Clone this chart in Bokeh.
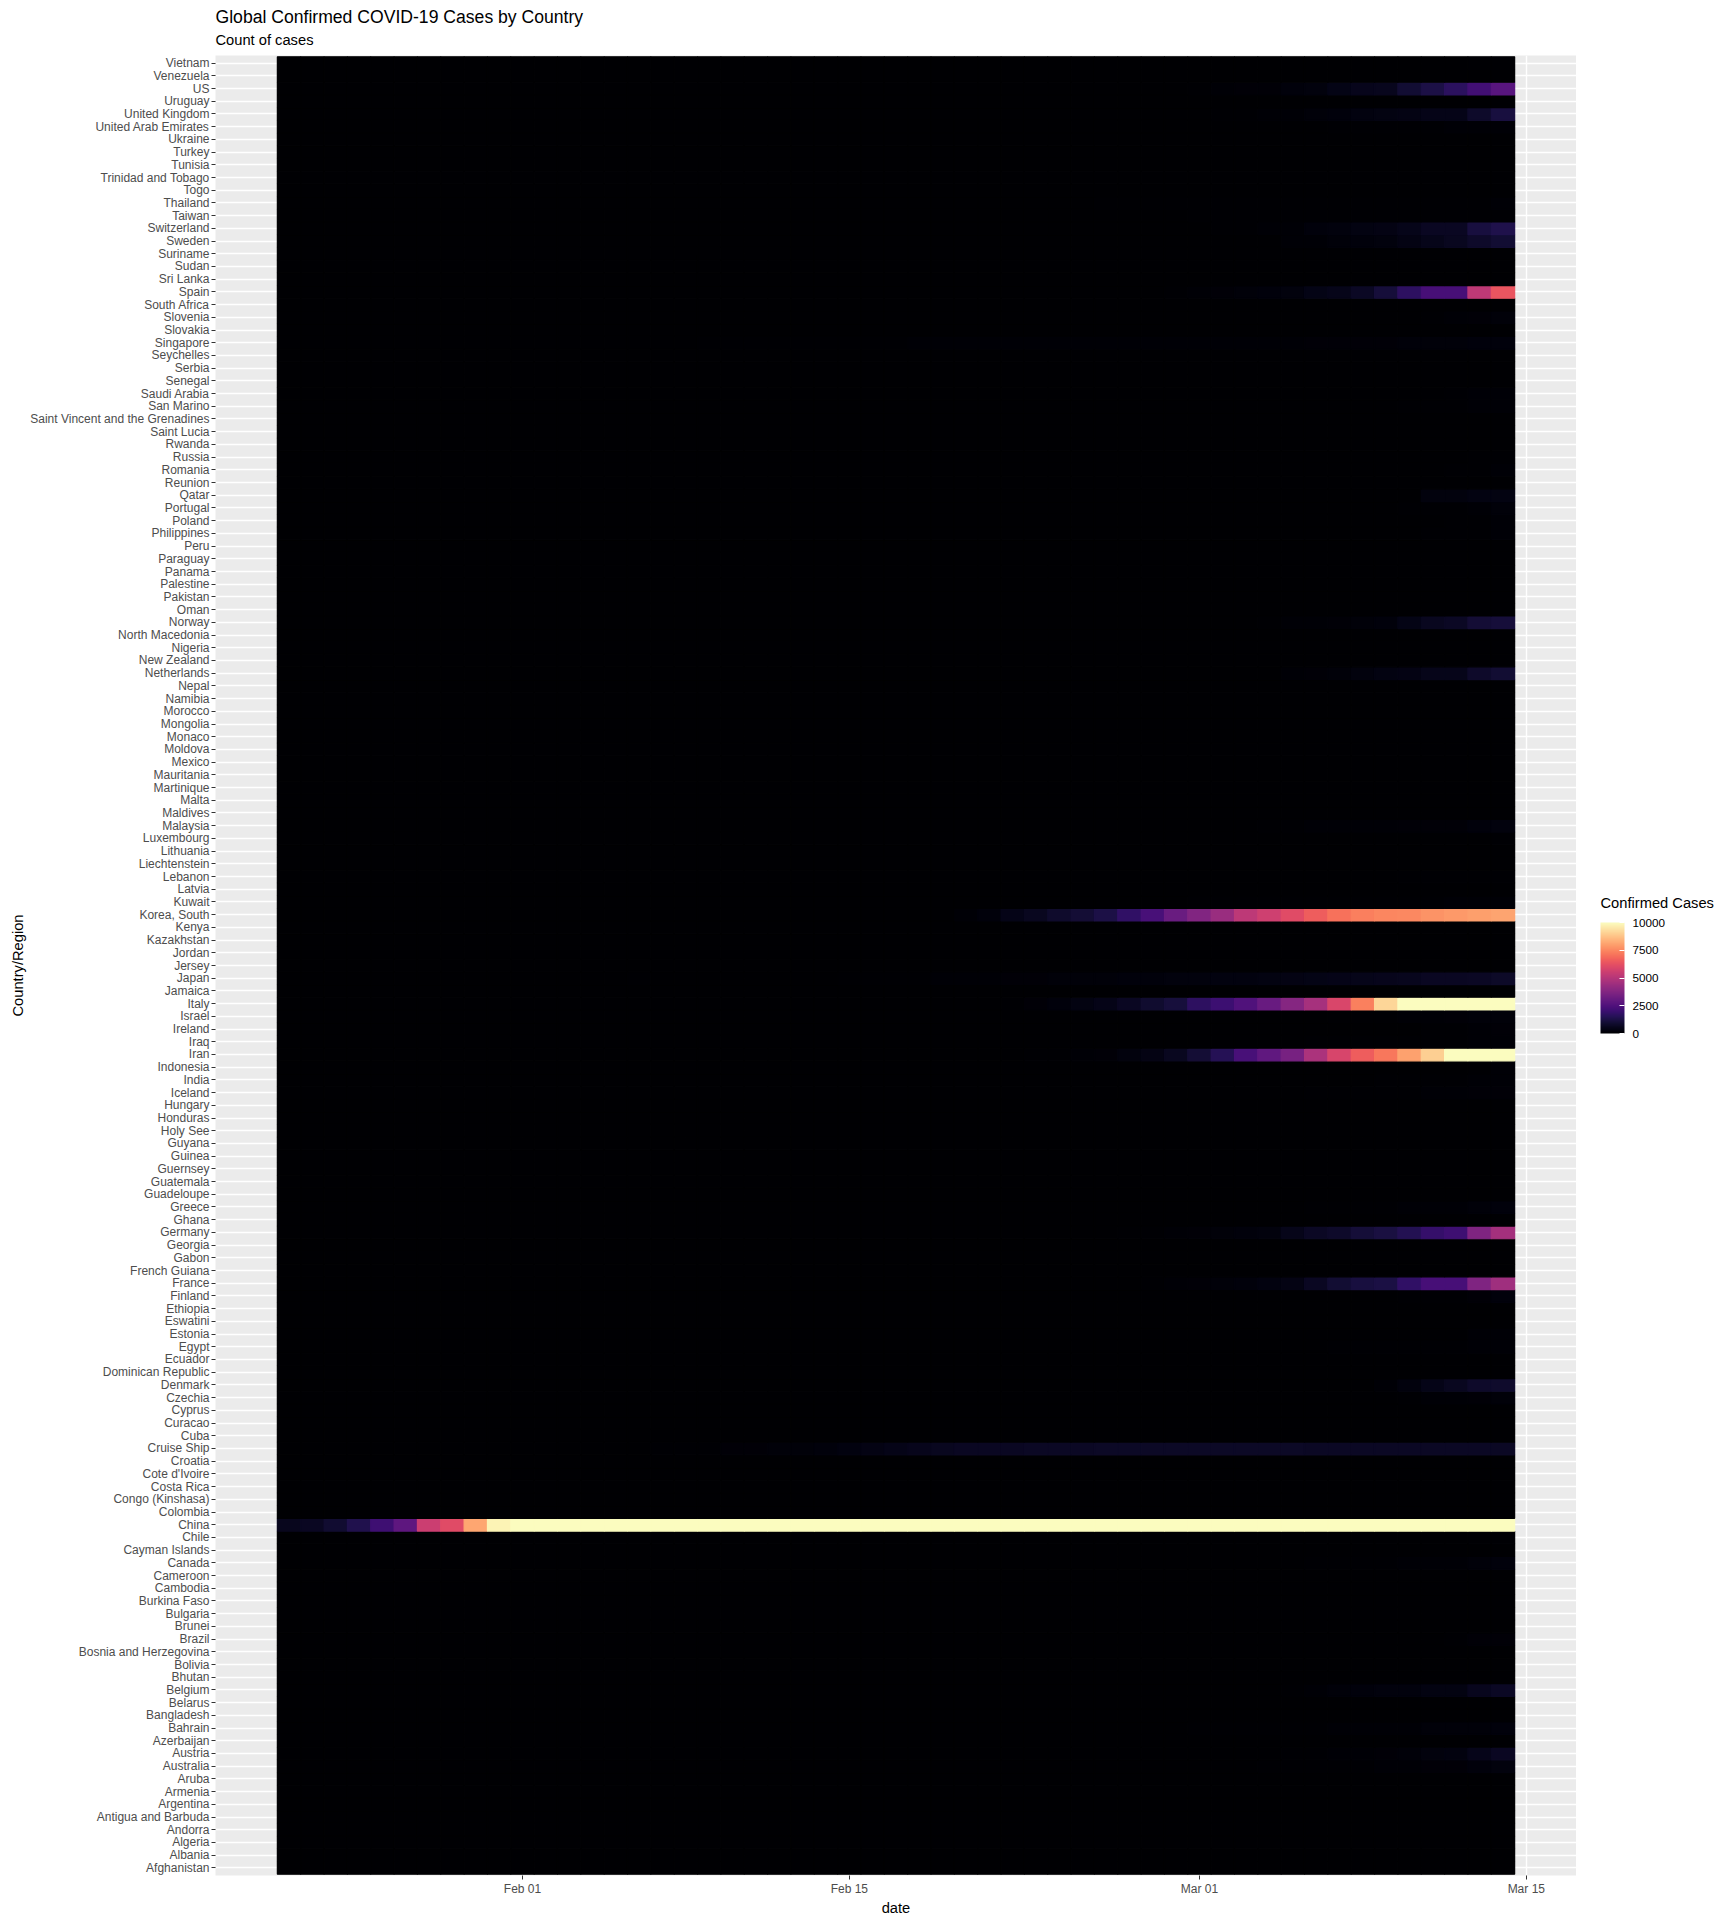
import pandas as pd
from bokeh.plotting import figure
from bokeh.layouts import column, row
from bokeh.models import (ColumnDataSource, LinearColorMapper, ColorBar, FixedTicker,
                          Range1d, DatetimeTickFormatter)
from bokeh.core.properties import value
from bokeh.palettes import Magma256
from bokeh.transform import transform
from bokeh.embed import file_html
from bokeh.resources import INLINE

# ---------------- data ----------------
COUNTRIES = [
    "Afghanistan", "Albania", "Algeria", "Andorra", "Antigua and Barbuda", "Argentina", "Armenia",
    "Aruba", "Australia", "Austria", "Azerbaijan", "Bahrain", "Bangladesh", "Belarus", "Belgium",
    "Bhutan", "Bolivia", "Bosnia and Herzegovina", "Brazil", "Brunei", "Bulgaria", "Burkina Faso",
    "Cambodia", "Cameroon", "Canada", "Cayman Islands", "Chile", "China", "Colombia",
    "Congo (Kinshasa)", "Costa Rica", "Cote d'Ivoire", "Croatia", "Cruise Ship", "Cuba", "Curacao",
    "Cyprus", "Czechia", "Denmark", "Dominican Republic", "Ecuador", "Egypt", "Estonia", "Eswatini",
    "Ethiopia", "Finland", "France", "French Guiana", "Gabon", "Georgia", "Germany", "Ghana",
    "Greece", "Guadeloupe", "Guatemala", "Guernsey", "Guinea", "Guyana", "Holy See", "Honduras",
    "Hungary", "Iceland", "India", "Indonesia", "Iran", "Iraq", "Ireland", "Israel", "Italy",
    "Jamaica", "Japan", "Jersey", "Jordan", "Kazakhstan", "Kenya", "Korea, South", "Kuwait",
    "Latvia", "Lebanon", "Liechtenstein", "Lithuania", "Luxembourg", "Malaysia", "Maldives",
    "Malta", "Martinique", "Mauritania", "Mexico", "Moldova", "Monaco", "Mongolia", "Morocco",
    "Namibia", "Nepal", "Netherlands", "New Zealand", "Nigeria", "North Macedonia", "Norway",
    "Oman", "Pakistan", "Palestine", "Panama", "Paraguay", "Peru", "Philippines", "Poland",
    "Portugal", "Qatar", "Reunion", "Romania", "Russia", "Rwanda", "Saint Lucia",
    "Saint Vincent and the Grenadines", "San Marino", "Saudi Arabia", "Senegal", "Serbia",
    "Seychelles", "Singapore", "Slovakia", "Slovenia", "South Africa", "Spain", "Sri Lanka",
    "Sudan", "Suriname", "Sweden", "Switzerland", "Taiwan", "Thailand", "Togo",
    "Trinidad and Tobago", "Tunisia", "Turkey", "Ukraine", "United Arab Emirates",
    "United Kingdom", "Uruguay", "US", "Venezuela", "Vietnam",
]

FIRST_DATE = "2020-01-22"
N_DAYS = 53  # 2020-01-22 .. 2020-03-14

TITLE = "Global Confirmed COVID-19 Cases by Country"
SUBTITLE = "Count of cases"
LEGEND_TITLE = "Confirmed Cases"
LEGEND_TICKS = [0, 2500, 5000, 7500, 10000]

# full daily series (Jan 22 .. Mar 14)
CHINA = [548, 643, 920, 1406, 2075, 2877, 5509, 6087, 8141, 9802,
         11891, 16630, 19716, 23707, 27440, 30587, 34110, 36814, 39829, 42354,
         44386, 44759, 59895, 66358, 68413, 70513, 72434, 74211, 74619, 75077,
         75550, 77001, 77022, 77241, 77754, 78166, 78600, 78928, 79356,
         79932, 80136, 80261, 80386, 80537, 80690, 80770, 80823, 80860, 80887,
         80921, 80932, 80945, 80977]
KOREA_SOUTH = [1, 1, 2, 2, 3, 4, 4, 4, 4, 11,
               12, 15, 15, 16, 19, 23, 24, 24, 25, 27,
               28, 28, 28, 28, 28, 29, 30, 31, 31, 104,
               204, 433, 602, 833, 977, 1261, 1766, 2337, 3150,
               3736, 4335, 5186, 5621, 6088, 6593, 7041, 7314, 7478, 7513,
               7755, 7869, 7979, 8086]
ITALY = [0, 0, 0, 0, 0, 0, 0, 0, 0, 2,
         2, 2, 2, 2, 2, 2, 3, 3, 3, 3,
         3, 3, 3, 3, 3, 3, 3, 3, 3, 3,
         20, 62, 155, 229, 322, 453, 655, 888, 1128,
         1694, 2036, 2502, 3089, 3858, 4636, 5883, 7375, 9172, 10149,
         12462, 12462, 17660, 21157]
IRAN = [0, 0, 0, 0, 0, 0, 0, 0, 0, 0,
        0, 0, 0, 0, 0, 0, 0, 0, 0, 0,
        0, 0, 0, 0, 0, 0, 0, 0, 2, 5,
        18, 28, 43, 61, 95, 139, 245, 388, 593,
        978, 1501, 2336, 2922, 3513, 4747, 5823, 6566, 7161, 8042,
        9000, 10075, 11364, 12729]
SPAIN = [0, 0, 0, 0, 0, 0, 0, 0, 0, 0,
         1, 1, 1, 1, 1, 1, 1, 1, 2, 2,
         2, 2, 2, 2, 2, 2, 2, 2, 2, 2,
         2, 2, 2, 2, 6, 13, 15, 32, 45,
         84, 120, 165, 222, 259, 400, 500, 673, 1073, 1695,
         2277, 2277, 5232, 6391]
FRANCE = [0, 0, 2, 3, 3, 3, 4, 5, 5, 5,
          6, 6, 6, 6, 6, 6, 6, 11, 11, 11,
          11, 11, 11, 11, 12, 12, 12, 12, 12, 12,
          12, 12, 12, 12, 12, 18, 38, 57, 100,
          130, 191, 204, 288, 380, 656, 957, 1134, 1217, 1792,
          2289, 2289, 3672, 4480]
GERMANY = [0, 0, 0, 0, 0, 1, 4, 4, 4, 5,
           8, 10, 12, 12, 12, 12, 13, 13, 14, 14,
           16, 16, 16, 16, 16, 16, 16, 16, 16, 16,
           16, 16, 16, 16, 17, 27, 46, 48, 79,
           130, 159, 196, 262, 482, 670, 799, 1040, 1176, 1457,
           1908, 2078, 3675, 4585]
US = [1, 1, 2, 2, 5, 5, 5, 5, 5, 6,
      8, 8, 11, 11, 11, 12, 12, 12, 12, 12,
      13, 13, 14, 14, 14, 14, 14, 14, 14, 14,
      16, 16, 16, 16, 16, 16, 17, 30, 30,
      74, 98, 118, 149, 217, 262, 402, 518, 583, 959,
      1281, 1663, 2179, 2727]
UNITED_KINGDOM = [0, 0, 0, 0, 0, 0, 0, 0, 0, 2,
                  2, 2, 2, 2, 2, 3, 3, 3, 3, 8,
                  8, 8, 9, 9, 9, 9, 9, 9, 9, 9,
                  9, 9, 9, 9, 9, 13, 13, 20, 23,
                  36, 40, 51, 86, 116, 164, 207, 274, 322, 384,
                  459, 459, 802, 1144]
JAPAN = [2, 1, 2, 2, 4, 4, 7, 7, 11, 15,
         20, 20, 20, 22, 22, 45, 25, 25, 26, 26,
         26, 28, 28, 29, 43, 59, 66, 74, 84, 94,
         105, 122, 147, 159, 170, 189, 214, 228, 241,
         256, 274, 293, 331, 360, 420, 461, 502, 511, 581,
         639, 639, 701, 773]
CRUISE_SHIP = [0, 0, 0, 0, 0, 0, 0, 0, 0, 0,
               0, 0, 0, 0, 0, 0, 61, 61, 64, 135,
               135, 175, 175, 218, 285, 355, 454, 542, 621, 634,
               634, 634, 691, 691, 691, 705, 705, 705, 705,
               705, 705, 706, 706, 706, 696, 696, 696, 696, 696,
               696, 696, 696, 696]
SINGAPORE = [0, 1, 3, 3, 4, 5, 7, 7, 10, 13,
             16, 18, 18, 24, 28, 28, 30, 33, 40, 45,
             47, 50, 58, 67, 72, 75, 77, 81, 84, 84,
             85, 85, 89, 89, 91, 93, 93, 93, 102,
             106, 108, 110, 110, 117, 130, 138, 150, 150, 160,
             178, 178, 200, 212]
MALAYSIA = [0, 0, 0, 3, 4, 4, 4, 7, 8, 8,
            8, 8, 8, 10, 12, 12, 12, 16, 16, 18,
            18, 18, 19, 19, 22, 22, 22, 22, 22, 22,
            22, 22, 22, 22, 22, 22, 23, 23, 25,
            29, 29, 36, 50, 50, 83, 93, 99, 117, 129,
            149, 149, 197, 238]
THAILAND = [2, 3, 5, 7, 8, 8, 14, 14, 14, 19,
            19, 19, 19, 25, 25, 25, 25, 32, 32, 32,
            33, 33, 33, 33, 34, 34, 35, 35, 35, 35,
            35, 35, 35, 35, 37, 40, 40, 41, 42,
            42, 43, 43, 43, 47, 48, 50, 50, 50, 53,
            59, 70, 75, 82]
TAIWAN = [1, 1, 3, 3, 4, 5, 8, 8, 9, 10,
          10, 10, 10, 10, 11, 11, 16, 16, 17, 18,
          18, 18, 18, 18, 18, 20, 22, 22, 23, 24,
          26, 26, 28, 30, 31, 32, 32, 34, 39,
          40, 41, 42, 42, 44, 45, 45, 45, 45, 47,
          48, 49, 50, 53]
VIETNAM = [0, 2, 2, 2, 2, 2, 2, 2, 2, 2,
           6, 8, 8, 8, 10, 10, 13, 13, 14, 14,
           15, 15, 16, 16, 16, 16, 16, 16, 16, 16,
           16, 16, 16, 16, 16, 16, 16, 16, 16,
           16, 16, 16, 16, 16, 21, 30, 30, 31, 31,
           35, 35, 44, 53]
AUSTRALIA = [0, 0, 0, 0, 4, 5, 5, 6, 9, 9,
             12, 12, 12, 13, 13, 14, 15, 15, 15, 15,
             15, 15, 15, 15, 15, 15, 15, 15, 15, 15,
             15, 15, 15, 15, 15, 15, 23, 23, 25,
             27, 30, 39, 52, 55, 60, 63, 76, 91, 107,
             128, 128, 200, 250]
UAE = [0, 0, 0, 0, 0, 0, 0, 4, 4, 4,
       4, 5, 5, 5, 5, 5, 5, 7, 7, 8,
       8, 8, 8, 8, 8, 9, 9, 9, 9, 9,
       9, 13, 13, 13, 13, 13, 13, 19, 21,
       21, 21, 27, 27, 29, 29, 45, 45, 45, 74,
       74, 85, 85, 85]

# last 14 days only (Mar 01 .. Mar 14); earlier days are (near) zero
SWITZERLAND_MAR = [27, 42, 56, 90, 114, 214, 268, 337, 374, 491, 652, 652, 1139, 1359]
SWEDEN_MAR = [14, 15, 21, 35, 94, 101, 161, 203, 248, 355, 500, 599, 814, 961]
NETHERLANDS_MAR = [10, 18, 24, 38, 82, 128, 188, 265, 321, 382, 503, 503, 806, 962]
NORWAY_MAR = [19, 25, 32, 56, 87, 108, 147, 176, 205, 400, 598, 702, 996, 1090]
DENMARK_MAR = [4, 4, 6, 10, 10, 23, 23, 35, 90, 262, 442, 615, 801, 827]
BELGIUM_MAR = [2, 8, 13, 23, 50, 109, 169, 200, 239, 267, 314, 314, 559, 689]
AUSTRIA_MAR = [14, 18, 21, 29, 41, 55, 79, 104, 131, 182, 246, 302, 504, 655]
QATAR_MAR = [1, 1, 7, 8, 8, 8, 12, 12, 15, 24, 262, 262, 320, 337]
BAHRAIN_MAR = [47, 49, 49, 52, 55, 60, 85, 85, 95, 110, 195, 195, 189, 210]
GREECE_MAR = [7, 7, 7, 9, 31, 45, 46, 73, 73, 89, 99, 99, 190, 228]
ISRAEL_MAR = [10, 10, 12, 15, 20, 37, 43, 50, 75, 97, 109, 131, 161, 193]
CANADA_MAR = [20, 24, 27, 33, 37, 49, 54, 64, 77, 79, 108, 117, 193, 198]
FINLAND_MAR = [6, 6, 6, 6, 12, 15, 15, 23, 30, 40, 59, 59, 155, 225]
ICELAND_MAR = [3, 6, 11, 26, 34, 43, 50, 50, 58, 69, 85, 103, 134, 156]
PORTUGAL_MAR = [0, 2, 2, 5, 8, 13, 20, 30, 30, 41, 59, 59, 112, 169]
CZECHIA_MAR = [3, 3, 5, 5, 8, 19, 26, 32, 38, 63, 94, 94, 141, 189]
SLOVENIA_MAR = [0, 0, 0, 1, 6, 8, 9, 16, 25, 34, 57, 89, 141, 181]
BRAZIL_MAR = [2, 2, 2, 4, 4, 13, 13, 20, 25, 31, 38, 52, 151, 151]
IRELAND_MAR = [1, 1, 2, 2, 6, 18, 18, 19, 21, 34, 43, 43, 90, 129]
ESTONIA_MAR = [1, 1, 1, 1, 1, 1, 1, 3, 10, 10, 13, 16, 79, 115]
EGYPT_MAR = [2, 2, 2, 3, 15, 15, 49, 55, 59, 60, 67, 67, 80, 109]
INDIA_MAR = [3, 5, 5, 28, 30, 31, 34, 39, 43, 56, 62, 73, 82, 102]
KUWAIT_MAR = [45, 56, 56, 56, 58, 58, 61, 64, 64, 69, 72, 80, 80, 104]
IRAQ_MAR = [19, 26, 32, 35, 35, 40, 54, 60, 60, 71, 71, 71, 101, 110]
PHILIPPINES_MAR = [3, 3, 3, 3, 3, 5, 6, 10, 20, 33, 49, 52, 64, 111]
INDONESIA_MAR = [0, 2, 2, 2, 2, 4, 4, 6, 19, 27, 34, 34, 69, 96]
SAUDI_ARABIA_MAR = [0, 1, 1, 1, 5, 5, 5, 11, 15, 20, 21, 45, 86, 103]
SAN_MARINO_MAR = [8, 8, 10, 16, 21, 21, 23, 36, 36, 51, 62, 69, 80, 80]
ROMANIA_MAR = [3, 3, 3, 3, 4, 6, 9, 9, 15, 15, 25, 45, 49, 89]
POLAND_MAR = [0, 0, 0, 1, 1, 5, 5, 11, 16, 22, 31, 49, 68, 103]
RUSSIA_MAR = [2, 3, 3, 3, 4, 13, 13, 17, 17, 20, 20, 28, 45, 59]
LEBANON_MAR = [10, 13, 13, 13, 16, 22, 22, 32, 32, 41, 61, 61, 77, 77]
CHILE_MAR = [0, 0, 1, 3, 4, 4, 4, 8, 8, 13, 23, 23, 43, 61]
LUXEMBOURG_MAR = [1, 1, 1, 2, 2, 3, 4, 5, 5, 5, 7, 7, 26, 51]

# ---------------- table for bokeh ----------------
def pad(vals):
    return [0] * (N_DAYS - len(vals)) + list(vals)

SERIES = {
    "China": CHINA, "Korea, South": KOREA_SOUTH, "Italy": ITALY, "Iran": IRAN, "Spain": SPAIN,
    "France": FRANCE, "Germany": GERMANY, "US": US, "United Kingdom": UNITED_KINGDOM,
    "Japan": JAPAN, "Cruise Ship": CRUISE_SHIP, "Singapore": SINGAPORE, "Malaysia": MALAYSIA,
    "Thailand": THAILAND, "Taiwan": TAIWAN, "Vietnam": VIETNAM, "Australia": AUSTRALIA,
    "United Arab Emirates": UAE,
    "Switzerland": pad(SWITZERLAND_MAR), "Sweden": pad(SWEDEN_MAR),
    "Netherlands": pad(NETHERLANDS_MAR), "Norway": pad(NORWAY_MAR), "Denmark": pad(DENMARK_MAR),
    "Belgium": pad(BELGIUM_MAR), "Austria": pad(AUSTRIA_MAR), "Qatar": pad(QATAR_MAR),
    "Bahrain": pad(BAHRAIN_MAR), "Greece": pad(GREECE_MAR), "Israel": pad(ISRAEL_MAR),
    "Canada": pad(CANADA_MAR), "Finland": pad(FINLAND_MAR), "Iceland": pad(ICELAND_MAR),
    "Portugal": pad(PORTUGAL_MAR), "Czechia": pad(CZECHIA_MAR), "Slovenia": pad(SLOVENIA_MAR),
    "Brazil": pad(BRAZIL_MAR), "Ireland": pad(IRELAND_MAR), "Estonia": pad(ESTONIA_MAR),
    "Egypt": pad(EGYPT_MAR), "India": pad(INDIA_MAR), "Kuwait": pad(KUWAIT_MAR),
    "Iraq": pad(IRAQ_MAR), "Philippines": pad(PHILIPPINES_MAR),
    "Indonesia": pad(INDONESIA_MAR), "Saudi Arabia": pad(SAUDI_ARABIA_MAR),
    "San Marino": pad(SAN_MARINO_MAR), "Romania": pad(ROMANIA_MAR), "Poland": pad(POLAND_MAR),
    "Russia": pad(RUSSIA_MAR), "Lebanon": pad(LEBANON_MAR), "Chile": pad(CHILE_MAR),
    "Luxembourg": pad(LUXEMBOURG_MAR),
}

DATES = pd.date_range(FIRST_DATE, periods=N_DAYS, freq="D")

xs, ys, vals = [], [], []
for i, c in enumerate(COUNTRIES):
    r = SERIES.get(c, [0] * N_DAYS)
    for j, d in enumerate(DATES):
        xs.append(d)
        ys.append(i + 1)
        vals.append(r[j])
source = ColumnDataSource(dict(date=xs, row=ys, value=vals))

mapper = LinearColorMapper(palette=Magma256, low=LEGEND_TICKS[0], high=LEGEND_TICKS[-1])

FONT = "Liberation Sans"
DAY = pd.Timedelta(days=1)
x_start = (DATES[0] - 0.5 * DAY - 0.05 * N_DAYS * DAY).to_pydatetime()
x_end = (DATES[-1] + 0.5 * DAY + 0.05 * N_DAYS * DAY).to_pydatetime()
n = len(COUNTRIES)

TOP_H = 55          # title strip height
LEFT_W = 215        # left border of the heatmap
FW, FH = 1361, 1820 # heatmap frame
LEG_W = 1728 - LEFT_W - FW
LEG_H = 1100

# ---------------- title strip ----------------
top = figure(width=1728, height=TOP_H, x_range=Range1d(0, 1728), y_range=Range1d(TOP_H, 0),
             x_axis_location=None, y_axis_location=None, output_backend="svg",
             toolbar_location=None, min_border=0)
top.grid.visible = False
top.outline_line_color = None
top.text(x=[LEFT_W], y=[16], text=[TITLE], text_font=value(FONT), text_font_size="17.6px",
         text_color="black", text_baseline="middle", text_align="left")
top.text(x=[LEFT_W], y=[39], text=[SUBTITLE], text_font=value(FONT), text_font_size="14.7px",
         text_color="black", text_baseline="middle", text_align="left")

# ---------------- heatmap ----------------
p = figure(x_axis_type="datetime",
           x_range=Range1d(x_start, x_end),
           y_range=Range1d(0.4, n + 0.6),
           frame_width=FW, frame_height=FH,
           output_backend="svg", toolbar_location=None,
           min_border_left=LEFT_W, min_border_right=0, min_border_top=0, min_border_bottom=0)

p.background_fill_color = "#EBEBEB"
p.border_fill_color = "white"
p.outline_line_color = None

p.rect(x="date", y="row", width=24 * 3600 * 1000, height=1, source=source,
       fill_color=transform("value", mapper), line_color=transform("value", mapper),
       line_width=1.2)

def ms(s):
    return pd.Timestamp(s).timestamp() * 1000

xticker = FixedTicker(ticks=[ms("2020-02-01"), ms("2020-02-15"), ms("2020-03-01"), ms("2020-03-15")],
                      minor_ticks=[ms("2020-01-18"), ms("2020-01-25"), ms("2020-02-08"),
                                   ms("2020-02-22"), ms("2020-03-08")])
p.xaxis.ticker = xticker
p.xgrid.ticker = xticker
p.xaxis.formatter = DatetimeTickFormatter(days="%b %d", months="%b %d")

yticker = FixedTicker(ticks=list(range(1, n + 1)))
p.yaxis.ticker = yticker
p.ygrid.ticker = yticker
p.yaxis.major_label_overrides = {i + 1: c for i, c in enumerate(COUNTRIES)}

p.xgrid.grid_line_color = "white"
p.xgrid.grid_line_width = 1.4
p.xgrid.minor_grid_line_color = "white"
p.xgrid.minor_grid_line_width = 0.7
p.ygrid.grid_line_color = "white"
p.ygrid.grid_line_width = 1.4

for ax in (p.xaxis, p.yaxis):
    ax.axis_line_color = None
    ax.major_tick_line_color = "#333333"
    ax.major_tick_line_width = 1
    ax.major_tick_out = 4
    ax.major_tick_in = 0
    ax.minor_tick_line_color = None
    ax.major_label_text_font = FONT
    ax.major_label_text_font_size = "12px"
    ax.major_label_text_color = "#4D4D4D"
    ax.major_label_standoff = 2
    ax.axis_label_text_font = FONT
    ax.axis_label_text_font_size = "14.7px"
    ax.axis_label_text_font_style = "normal"
    ax.axis_label_text_color = "black"
    ax.axis_label_standoff = 1

p.xaxis.axis_label = "date"
p.yaxis.axis_label = "Country/Region"

# ---------------- legend ----------------
leg = figure(width=LEG_W, height=LEG_H, x_range=Range1d(0, LEG_W), y_range=Range1d(LEG_H, 0),
             x_axis_location=None, y_axis_location=None, output_backend="svg",
             toolbar_location=None, min_border=0)
leg.grid.visible = False
leg.outline_line_color = None
leg.text(x=[24], y=[882], text=[LEGEND_TITLE], text_font=value(FONT),
         text_font_size="14.7px", text_color="black", text_baseline="middle", text_align="left")

color_bar = ColorBar(color_mapper=mapper,
                     ticker=FixedTicker(ticks=LEGEND_TICKS),
                     width=24, height=111, padding=0,
                     location=(24, 79),
                     major_label_text_font=FONT, major_label_text_font_size="11.7px",
                     major_label_text_color="black", label_standoff=8,
                     major_tick_line_color="white", major_tick_in=5, major_tick_out=0,
                     minor_tick_line_color=None, bar_line_color=None,
                     background_fill_alpha=0, border_line_color=None)
leg.add_layout(color_bar)

layout = column(top, row(p, leg, spacing=0), spacing=0)

open("out.html", "w").write(file_html(layout, INLINE))
